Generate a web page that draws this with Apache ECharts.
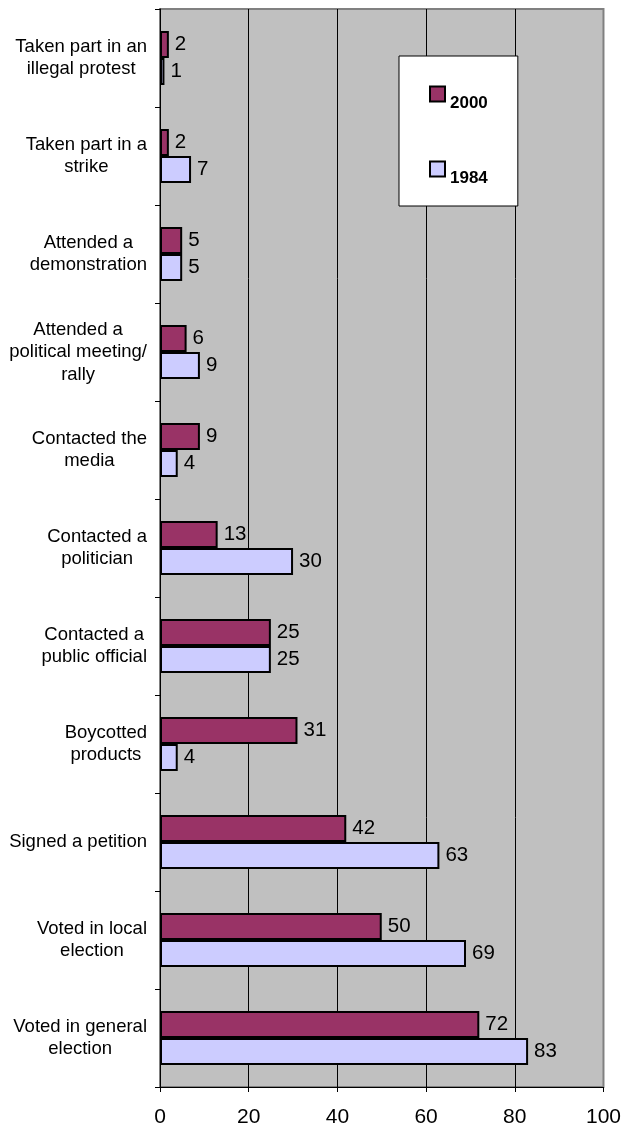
<!DOCTYPE html>
<html>
<head>
<meta charset="utf-8">
<script src="https://cdn.jsdelivr.net/npm/echarts@6/dist/echarts.min.js"></script>
<style>
html,body{margin:0;padding:0;background:#fff;}
#chart{width:624px;height:1128px;}
</style>
</head>
<body>
<div id="chart"></div>
<script>
var categories = [
  "Taken part in an\nillegal protest",
  "Taken part in a\nstrike",
  "Attended a\ndemonstration",
  "Attended a\npolitical meeting/\nrally",
  "Contacted the\nmedia",
  "Contacted a\npolitician",
  "Contacted a\npublic official",
  "Boycotted\nproducts",
  "Signed a petition",
  "Voted in local\nelection",
  "Voted in general\nelection"
];
var values2000 = [2, 2, 5, 6, 9, 13, 25, 31, 42, 50, 72];
var values1984 = [1, 7, 5, 9, 4, 30, 25, 4, 63, 69, 83];
var xTicks = [0, 20, 40, 60, 80, 100];

var FONT = "'Liberation Sans', Arial, sans-serif";
var chart = echarts.init(document.getElementById('chart'), null, {renderer: 'canvas'});

function barSeries(name, data, color) {
  return {
    name: name,
    type: 'bar',
    data: data,
    barWidth: 27,
    barGap: '0%',
    itemStyle: {color: color, borderColor: '#000', borderWidth: 2},
    label: {
      show: true, position: 'right', distance: 6,
      color: '#000', fontSize: 20.5, fontFamily: FONT
    },
    emphasis: {disabled: true},
    animation: false
  };
}

chart.setOption({
  animation: false,
  textStyle: {fontFamily: FONT},
  grid: {
    left: 160, right: 19, top: 9, bottom: 40,
    show: true, backgroundColor: '#C0C0C0',
    borderColor: '#808080', borderWidth: 2
  },
  legend: {
    orient: 'vertical',
    left: 399, top: 56,
    backgroundColor: '#fff',
    borderColor: '#000', borderWidth: 1,
    padding: [20, 30, 19, 30],
    itemGap: 39,
    itemWidth: 15, itemHeight: 15,
    icon: 'rect',
    itemStyle: {borderColor: '#000', borderWidth: 2},
    formatter: function (n) { return '{t|' + n + '}'; },
    textStyle: {
      fontFamily: FONT, fontSize: 17, fontWeight: 'bold', color: '#000',
      rich: {t: {fontFamily: FONT, fontSize: 17, fontWeight: 'bold', color: '#000', lineHeight: 17, padding: [19, 0, 0, 0]}}
    },
    data: ['2000', '1984']
  },
  xAxis: {
    type: 'value', min: 0, max: 100, interval: 20,
    axisLine: {show: true, lineStyle: {color: '#000', width: 1}},
    axisTick: {show: true, length: 5, lineStyle: {color: '#000'}},
    axisLabel: {
      color: '#000', fontSize: 21, fontFamily: FONT, margin: 20,
      formatter: function (v) { return xTicks.indexOf(v) >= 0 ? String(v) : ''; }
    },
    splitLine: {show: true, showMinLine: false, showMaxLine: false, lineStyle: {color: '#000', width: 1}}
  },
  yAxis: {
    type: 'category', data: categories, inverse: true,
    axisLine: {show: true, lineStyle: {color: '#000', width: 1}},
    axisTick: {show: true, length: 5, inside: false, lineStyle: {color: '#000'}},
    axisLabel: {
      margin: 13, color: '#000', fontSize: 18.5, fontFamily: FONT, lineHeight: 22.5,
      formatter: function (v) {
        return v.split('\n').map(function (l) { return '{c|' + l + '}'; }).join('\n');
      },
      rich: {c: {align: 'center', fontSize: 18.5, fontFamily: FONT, lineHeight: 22.5, color: '#000'}}
    },
    splitLine: {show: false}
  },
  series: [
    barSeries('2000', values2000, '#993366'),
    barSeries('1984', values1984, '#CCCCFF')
  ]
});
</script>
</body>
</html>
